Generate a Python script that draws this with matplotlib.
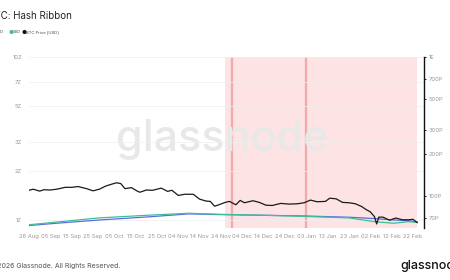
import matplotlib
matplotlib.use("Agg")
import matplotlib.pyplot as plt
import matplotlib.dates as mdates
import numpy as np
import datetime as dt

plt.rcParams['font.family'] = ['Inter', 'DejaVu Sans']

# ---- data ----
price_dates = ["2025-08-26","2025-08-28","2025-08-31","2025-09-02","2025-09-05","2025-09-08",
               "2025-09-12","2025-09-15","2025-09-18","2025-09-22","2025-09-25","2025-09-28",
               "2025-10-01","2025-10-04","2025-10-06","2025-10-08","2025-10-10","2025-10-13",
               "2025-10-16","2025-10-17","2025-10-20","2025-10-23","2025-10-27","2025-10-30",
               "2025-11-01","2025-11-04","2025-11-07","2025-11-11","2025-11-14","2025-11-17",
               "2025-11-19","2025-11-21","2025-11-23","2025-11-26","2025-11-28","2025-12-01",
               "2025-12-03","2025-12-05","2025-12-09","2025-12-12","2025-12-15","2025-12-18",
               "2025-12-22","2025-12-26","2025-12-30","2026-01-02","2026-01-05","2026-01-08",
               "2026-01-12","2026-01-14","2026-01-17","2026-01-20","2026-01-23","2026-01-26",
               "2026-01-29","2026-01-31","2026-02-02","2026-02-04","2026-02-05","2026-02-06",
               "2026-02-08","2026-02-11","2026-02-14","2026-02-17","2026-02-20","2026-02-22",
               "2026-02-24"]
price_usd = [110000,112000,108500,111000,110500,112000,
             115500,115500,117000,113000,109000,112000,
             118000,122000,124500,123000,113000,115000,
             108000,106500,110500,110000,114000,108000,
             110000,101000,103000,103000,95000,92000,
             91500,84500,86500,90000,91500,86500,
             93000,89500,92500,90000,86000,85500,
             88500,87500,88000,89500,93500,91000,
             91500,96500,95500,90000,89500,88000,
             84000,80000,77000,71000,63000,70500,
             70500,67000,69500,67500,67500,68000,
             64500]

hash_dates = ["2025-08-26","2025-09-10","2025-09-28","2025-10-21","2025-11-09","2025-11-22",
              "2025-12-12","2025-12-31","2026-01-23","2026-02-04","2026-02-13","2026-02-20",
              "2026-02-24"]
hash_30d = [0.935e21,0.977e21,1.03e21,1.07e21,1.10e21,1.085e21,
            1.07e21,1.055e21,1.03e21,0.977e21,0.955e21,0.977e21,0.965e21]
hash_60d = [0.925e21,0.96e21,1.0e21,1.045e21,1.09e21,1.08e21,
            1.07e21,1.06e21,1.04e21,1.02e21,1.0e21,0.99e21,0.974e21]

left_ticks = [1e21, 2e21, 3e21, 5e21, 7e21, 1e22]
left_labels = ["1Z", "2Z", "3Z", "5Z", "7Z", "10Z"]
right_ticks = [70e3, 100e3, 200e3, 300e3, 500e3, 700e3, 1e6]
right_labels = ["70P", "100P", "200P", "300P", "500P", "700P", "1E"]

signal_start = "2025-11-26"
signal_end = "2026-02-24"
signal_lines = ["2025-11-29", "2026-01-03"]

def d(s):
    return dt.datetime.strptime(s, "%Y-%m-%d")

pdates = [d(s) for s in price_dates]
hdates = [d(s) for s in hash_dates]

fig = plt.figure(figsize=(4.5, 2.8), dpi=100)
ax = fig.add_axes([29/450, 1-228/280, (424-29)/450, (228-57)/280])
ax2 = ax.twinx()
ax.set_zorder(1)
ax2.set_zorder(2)
ax.patch.set_visible(False)
ax2.patch.set_visible(False)

# shading (bottom axes)
ax.axvspan(d(signal_start), d(signal_end), color="#fde3e3", zorder=0, lw=0)
for s in signal_lines:
    ax.axvline(d(s), color="#f2a9ab", lw=1.6, zorder=0.5)

# watermark above shading
ax.text(0.49, 0.52, "glassnode", transform=ax.transAxes, fontsize=31, color="#e8e8e8",
        ha="center", va="center", zorder=1, fontweight="medium")

ax.plot(hdates, hash_60d, color="#5b6ee0", lw=0.9, zorder=3)
ax.plot(hdates, hash_30d, color="#3cbf9a", lw=0.9, zorder=3)
ax2.plot(pdates, price_usd, color="#1a1a1a", lw=0.9, zorder=4)

ax.set_yscale("log")
ax.set_ylim(0.893e21, 1e22)
ax.set_yticks(left_ticks)
ax.set_yticklabels(left_labels)
ax.yaxis.set_minor_locator(matplotlib.ticker.NullLocator())
ax2.set_yscale("log")
ax2.set_ylim(58900, 1e6)
ax2.set_yticks(right_ticks)
ax2.set_yticklabels(right_labels)
ax2.yaxis.set_minor_locator(matplotlib.ticker.NullLocator())

ax.set_xlim(d("2025-08-26"), d("2025-08-26") + dt.timedelta(days=185.2))
xt = [d("2025-08-26") + dt.timedelta(days=10*i) for i in range(19)]
ax.set_xticks(xt)
ax.xaxis.set_major_formatter(mdates.DateFormatter("%d %b"))
ax.xaxis.set_minor_locator(matplotlib.ticker.NullLocator())

ax.grid(axis="y", color="#efefef", lw=0.5, zorder=0.2)
ax.tick_params(axis="y", length=0, pad=5, labelsize=4.2, labelcolor="#999999")
ax.tick_params(axis="x", length=0, pad=4.5, labelsize=4.2, labelcolor="#999999")
ax2.tick_params(axis="y", length=1.5, width=0.6, pad=2, labelsize=4.2, labelcolor="#999999")

for sp in ax.spines.values():
    sp.set_visible(False)
for k, sp in ax2.spines.items():
    sp.set_visible(k == "right")
ax2.spines["right"].set_color("#111111")
ax2.spines["right"].set_linewidth(1.0)

# title and legend
fig.text(-12/450, 1-16/280, "BTC: Hash Ribbon", fontsize=7, color="#222222", ha="left", va="center")
ly = 1-32/280
lfs = 3.0
fig.text(-4/450, ly, "60D", fontsize=lfs, color="#444444", ha="left", va="center")
fig.text(9/450, ly, "\u25cf", fontsize=4, color="#3cbf9a", ha="left", va="center")
fig.text(13/450, ly, "30D", fontsize=lfs, color="#444444", ha="left", va="center")
fig.text(22/450, ly, "\u25cf", fontsize=4, color="#111111", ha="left", va="center")
fig.text(26/450, ly, "BTC Price [USD]", fontsize=lfs, color="#444444", ha="left", va="center")

fig.text(-11/450, 1-266/280, "\u00a9 2026 Glassnode. All Rights Reserved.", fontsize=5,
         color="#555555", ha="left", va="center")
fig.text(400/450, 1-266/280, "glassnode", fontsize=9, color="#111111", ha="left", va="center",
         fontweight="medium")

fig.savefig("out.png", dpi=100)
